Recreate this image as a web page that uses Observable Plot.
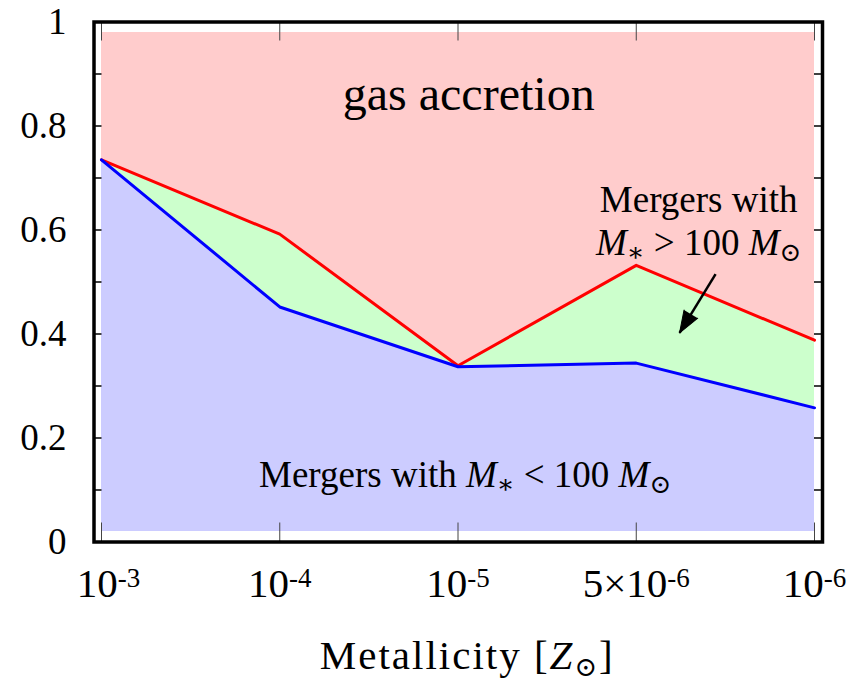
<!DOCTYPE html>
<html>
<head>
<meta charset="utf-8">
<script src="https://cdn.jsdelivr.net/npm/d3@7"></script>
<script src="https://cdn.jsdelivr.net/npm/@observablehq/plot@0.6"></script>
<style>
  html, body { margin: 0; padding: 0; background: #fff; }
  #chart svg { display: block; }
</style>
</head>
<body>
<div id="chart"></div>
<script>
// ---------- data ----------
const xIndex = [0, 1, 2, 3, 4];
const metallicityLabels = ["10{sup:-3}", "10{sup:-4}", "10{sup:-5}", "5×10{sup:-6}", "10{sup:-6}"];
// upper boundary of "Mergers with M* < 100 Msun" (blue line)
const blueLine = [0.735, 0.452, 0.337, 0.344, 0.258];
// upper boundary of "Mergers with M* > 100 Msun" (red line, cumulative)
const redLine = [0.735, 0.592, 0.339, 0.532, 0.388];
// extent of the coloured bands
const fillBottom = 0.02;
const fillTop = 0.98;

const yTicks = [0, 0.2, 0.4, 0.6, 0.8, 1];
const yTickLabels = ["0", "0.2", "0.4", "0.6", "0.8", "1"];
const yMinorTicks = [0, 0.1, 0.2, 0.3, 0.4, 0.5, 0.6, 0.7, 0.8, 0.9, 1];

const xTitle = "Metallicity [{i:Z}{sub:⊙}]";

const annoText = ["gas accretion", "Mergers with", "{i:M}{sub:∗} > 100 {i:M}{sub:⊙}", "Mergers with {i:M}{sub:∗} < 100 {i:M}{sub:⊙}"];
const annoX = [2.06, 3.35, 3.35, 2.04];
const annoY = [0.831, 0.635, 0.552, 0.106];

const arrowStart = [3.445, 0.515];
const arrowEnd = [3.243, 0.402];

// ---------- helpers ----------
function parseRich(s) {
  const segs = []; const re = /\{(i|sub|sup):([^}]*)\}/g; let last = 0, m;
  while ((m = re.exec(s))) {
    if (m.index > last) segs.push(["", s.slice(last, m.index)]);
    segs.push([m[1], m[2]]);
    last = re.lastIndex;
  }
  if (last < s.length) segs.push(["", s.slice(last)]);
  return segs;
}
const plain = s => parseRich(s).map(d => d[1]).join("");

function richify(root, markup, opts) {
  const p = plain(markup);
  d3.select(root).selectAll("text").filter(function () { return this.textContent === p; }).each(function () {
    const t = d3.select(this);
    t.text(null);
    if (opts.letterSpacing) t.attr("letter-spacing", opts.letterSpacing);
    if (opts.dx) t.attr("dx", opts.dx);
    let shift = 0;
    for (const [kind, str] of parseRich(markup)) {
      const ts = t.append("tspan").text(str);
      const target = kind === "sub" ? opts.sub : kind === "sup" ? -opts.sup : 0;
      if (target !== shift) { ts.attr("dy", target - shift); shift = target; }
      if (kind === "i") ts.attr("font-style", "italic");
      if (kind === "sub" || kind === "sup") ts.attr("font-size", opts.small);
    }
  });
}

// ---------- chart ----------
const FONT = '"Liberation Serif", "Times New Roman", "DejaVu Serif", serif';
const rows = xIndex.map(i => ({i, blue: blueLine[i], red: redLine[i]}));
const annos = annoText.map((t, k) => ({text: plain(t), x: annoX[k], y: annoY[k]}));
const arrow = {x1: arrowStart[0], y1: arrowStart[1], x2: arrowEnd[0], y2: arrowEnd[1]};

const plot = Plot.plot({
  width: 860,
  height: 684,
  marginLeft: 93.5,
  marginRight: 38,
  marginTop: 21.5,
  marginBottom: 142.5,
  style: {fontFamily: FONT, background: "#fff", color: "#000"},
  x: {type: "linear", domain: [0, 4], insetLeft: 7.5, insetRight: 8},
  y: {domain: [0, 1]},
  marks: [
    Plot.areaY(rows, {x: "i", y1: "red", y2: () => fillTop, fill: "#ffcccc"}),
    Plot.areaY(rows, {x: "i", y1: "blue", y2: "red", fill: "#ccffcc"}),
    Plot.areaY(rows, {x: "i", y1: () => fillBottom, y2: "blue", fill: "#ccccff"}),
    Plot.line(rows, {x: "i", y: "red", stroke: "#ff0000", strokeWidth: 3}),
    Plot.line(rows, {x: "i", y: "blue", stroke: "#0000ff", strokeWidth: 3}),
    // inner ticks
    Plot.ruleY(yMinorTicks, {y: d => d, stroke: "#000", strokeWidth: 1.5, insetRight: 720.5}),
    Plot.ruleY(yMinorTicks, {y: d => d, stroke: "#000", strokeWidth: 1.5, insetLeft: 720.5}),
    Plot.ruleX(xIndex, {x: d => d, stroke: "#444", strokeWidth: 1, insetTop: 501}),
    Plot.ruleX(xIndex, {x: d => d, stroke: "#444", strokeWidth: 1, insetBottom: 501}),
    Plot.frame({stroke: "#000", strokeWidth: 3.5}),
    Plot.axisY(yTicks, {anchor: "left", tickSize: 0, tickPadding: 27.5, fontSize: 37, label: null,
      tickFormat: d => yTickLabels[yTicks.indexOf(d)]}),
    Plot.axisX(xIndex, {anchor: "bottom", tickSize: 0, tickPadding: 26, fontSize: 41, label: null,
      tickFormat: i => plain(metallicityLabels[i])}),
    Plot.text([plain(xTitle)], {text: d => d, frameAnchor: "bottom", lineAnchor: "bottom", dx: 9, dy: 126.5, fontSize: 41}),
    Plot.text(annos.slice(0, 1), {x: "x", y: "y", text: "text", lineAnchor: "bottom", fontSize: 48}),
    Plot.text(annos.slice(1), {x: "x", y: "y", text: "text", lineAnchor: "bottom", fontSize: 37}),
    Plot.link([arrow], {x1: "x1", y1: "y1", x2: "x2", y2: "y2", stroke: "#000", strokeWidth: 2.5}),
    Plot.vector([arrow], {x: "x2", y: "y2", length: 22, rotate: 211, shape: "spike", r: 8, anchor: "end", fill: "#000", stroke: "#000", strokeWidth: 1})
  ]
});

document.getElementById("chart").appendChild(plot);

metallicityLabels.forEach((s, i) => richify(plot, s, {sup: 10, small: 27, dx: i === 0 ? 7 : 0}));
richify(plot, xTitle, {sub: 7, small: 27, letterSpacing: 2});
annoText.forEach(s => richify(plot, s, {sub: 6, small: 26}));
</script>
</body>
</html>
